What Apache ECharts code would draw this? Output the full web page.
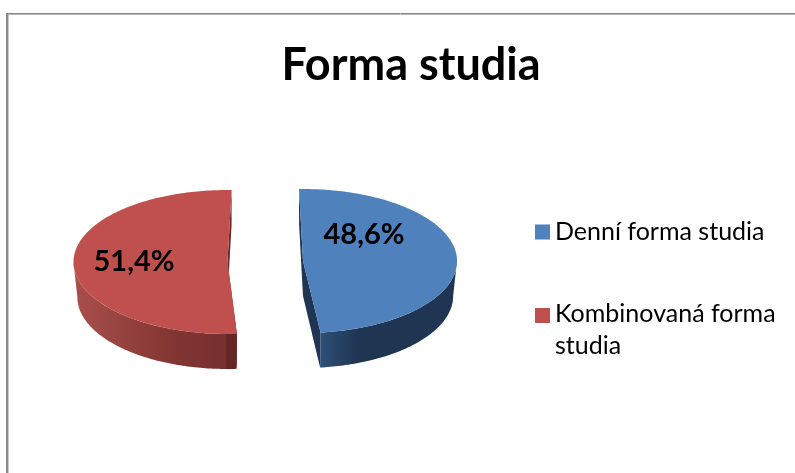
<!DOCTYPE html>
<html><head><meta charset="utf-8">
<style>html,body{margin:0;padding:0;background:#fff}#c{width:795px;height:473px}</style>
<script src="https://cdn.jsdelivr.net/npm/echarts@6/dist/echarts.min.js"></script>
</head><body><div id="c"></div>
<script>
const titleText = 'Forma studia';
const categories = ['Denní forma studia', 'Kombinovaná forma studia'];
const percents = [48.6, 51.4];
const colors = ['#4f81bd', '#c0504d'];
const startAngles = [-1.5, 176.5];
const centersX = [303, 227.5];
const centersY = [261, 262];
const labelOffsets = [[61, -26], [-93.5, 0]];
const wallStops = [
  [[0, '#2e4f78'], [0.28, '#1f3552'], [1, '#1f3552']],
  [[0, '#a94f4c'], [0.6, '#833633'], [0.93, '#753030'], [0.935, '#642725'], [1, '#642725']]
];
const cutColors = ['#1f3552', '#642725'];
const RX = 154, RY = 72, DEPTH = 35, BOTTOM_SCALE = 0.975;

function pt(cx, cy, rx, ry, deg) {
  const t = deg * Math.PI / 180;
  return [cx + rx * Math.sin(t), cy - ry * Math.cos(t)];
}
function arc(cx, cy, rx, ry, a, b) {
  const out = [], n = Math.max(2, Math.ceil(Math.abs(b - a)));
  for (let i = 0; i <= n; i++) out.push(pt(cx, cy, rx, ry, a + (b - a) * i / n));
  return out;
}
function makeRender(i) {
  return function (params, api) {
    const pct = api.value(0);
    const a = startAngles[i], b = a + pct / 100 * 360;
    const cx = centersX[i], cy = centersY[i];
    const bcy = cy + DEPTH, brx = RX * BOTTOM_SCALE;
    const top = arc(cx, cy, RX, RY, a, b);
    const children = [];
    const c0 = [cx, cy], c1 = [cx, bcy];
    [a, b].forEach(ang => {
      children.push({ type: 'polygon', silent: true,
        shape: { points: [c0, pt(cx, cy, RX, RY, ang), pt(cx, bcy, brx, RY, ang), c1] },
        style: { fill: cutColors[i] } });
    });
    const wa = Math.max(a, 90), wb = Math.min(b, 270);
    const wall = arc(cx, cy, RX, RY, wa, wb).concat(arc(cx, bcy, brx, RY, wb, wa));
    children.push({ type: 'polygon', silent: true, shape: { points: wall },
      style: { fill: new echarts.graphic.LinearGradient(0, 0, 1, 0,
        wallStops[i].map(s => ({ offset: s[0], color: s[1] }))) } });
    children.push({ type: 'polygon', silent: true, shape: { points: [c0].concat(top) },
      style: { fill: colors[i] } });
    children.push({ type: 'text', silent: true, z2: 10,
      style: { x: cx + labelOffsets[i][0], y: cy + labelOffsets[i][1],
        text: pct.toFixed(1).replace('.', ',') + '%',
        font: 'bold 29px Lato, sans-serif', fill: '#000', align: 'center', verticalAlign: 'middle' } });
    return { type: 'group', children };
  };
}
const chart = echarts.init(document.getElementById('c'), null, { renderer: 'canvas' });
chart.setOption({
  animation: false,
  backgroundColor: '#fff',
  title: { text: titleText, left: 406, top: 38, textAlign: 'center',
    textStyle: { fontFamily: 'Lato', fontWeight: 'bold', fontSize: 45, color: '#000' } },
  legend: {
    orient: 'vertical', left: 530, top: 205, itemWidth: 15, itemHeight: 44, itemGap: 44,
    selectedMode: false,
    formatter: n => n === categories[1] ? 'Kombinovaná forma\nstudia' : n,
    textStyle: { fontFamily: 'Lato', fontSize: 25, color: '#000', lineHeight: 32 },
    data: [
      { name: categories[0], icon: 'path://M0 0L0 0ZM0 14.5H15V29.5H0ZM0 44L0 44Z' },
      { name: categories[1], icon: 'path://M0 0H15V15H0ZM0 44L0 44Z' }
    ]
  },
  graphic: [
    { type: 'line', shape: { x1: 6, y1: 13.5, x2: 795, y2: 13.5 }, style: { stroke: '#868686', lineWidth: 1 } },
    { type: 'line', shape: { x1: 6, y1: 14.5, x2: 795, y2: 14.5 }, style: { stroke: '#b8b8b8', lineWidth: 1 } },
    { type: 'line', shape: { x1: 7, y1: 13, x2: 7, y2: 473 }, style: { stroke: '#8a8a8a', lineWidth: 2 } },
    { type: 'line', shape: { x1: 8.5, y1: 15, x2: 8.5, y2: 473 }, style: { stroke: '#c8c8c8', lineWidth: 1 } }
  ],
  series: categories.map((name, i) => ({
    type: 'custom', name, coordinateSystem: 'none',
    itemStyle: { color: colors[i] },
    renderItem: makeRender(i),
    data: [[percents[i]]]
  }))
});
</script></body></html>
